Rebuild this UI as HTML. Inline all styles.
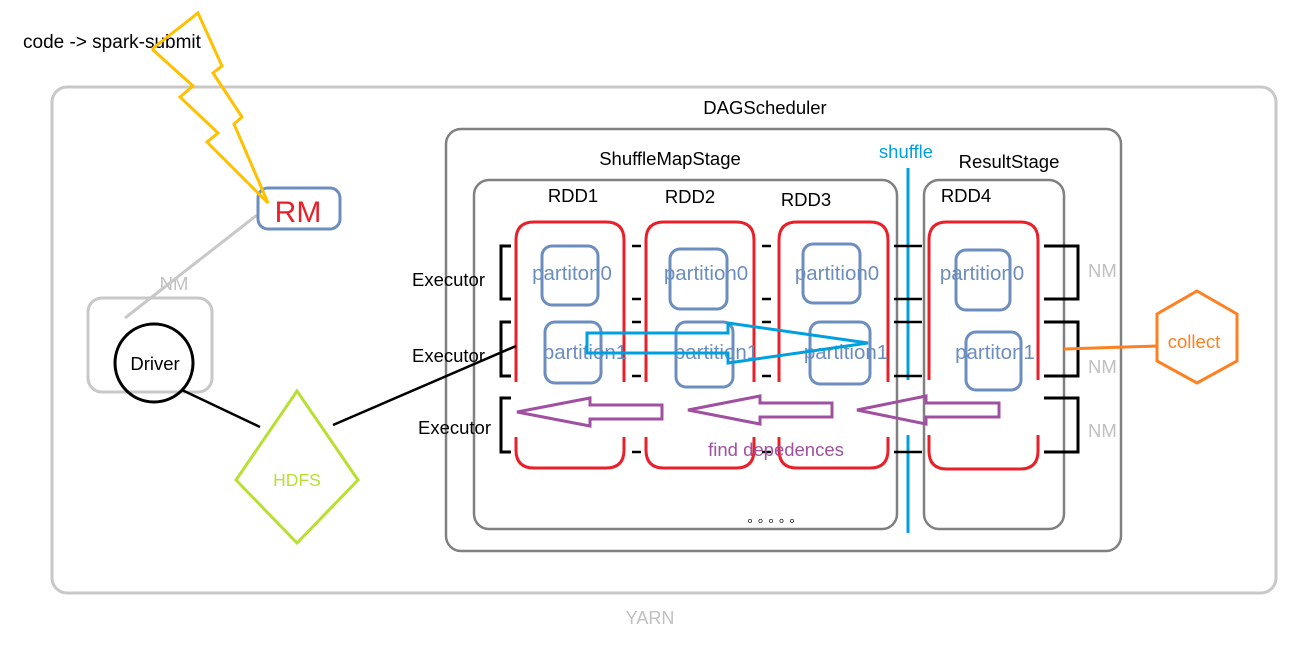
<!DOCTYPE html>
<html><head><meta charset="utf-8"><style>
html,body{margin:0;padding:0;background:#fff;}
svg{display:block;font-family:"Liberation Sans","Noto Sans CJK SC",sans-serif;}
</style></head><body>
<svg width="1316" height="651" viewBox="0 0 1316 651" xmlns="http://www.w3.org/2000/svg">
<rect x="52" y="87" width="1224" height="506" rx="15" fill="none" stroke="#c8c8c8" stroke-width="3"/>
<text x="650" y="624" font-size="18" fill="#c0c0c0" text-anchor="middle">YARN</text>
<rect x="446" y="129" width="675" height="422" rx="15" fill="none" stroke="#808080" stroke-width="2.5"/>
<text x="765" y="114" font-size="18.5" text-anchor="middle">DAGScheduler</text>
<rect x="474" y="180" width="423" height="349" rx="15" fill="none" stroke="#808080" stroke-width="2.5"/>
<text x="670" y="165" font-size="18.5" text-anchor="middle">ShuffleMapStage</text>
<rect x="924" y="180" width="140" height="349" rx="15" fill="none" stroke="#808080" stroke-width="2.5"/>
<text x="1009" y="168" font-size="18.5" text-anchor="middle">ResultStage</text>
<line x1="908" y1="168" x2="908" y2="380" stroke="#00a0e0" stroke-width="3"/>
<line x1="908" y1="435" x2="908" y2="533" stroke="#00a0e0" stroke-width="3"/>
<text x="906" y="158" font-size="18.5" fill="#00a0e0" text-anchor="middle">shuffle</text>
<g font-size="18.5" text-anchor="middle">
<text x="573" y="202">RDD1</text><text x="690" y="203">RDD2</text><text x="806" y="206">RDD3</text><text x="966" y="202">RDD4</text>
</g>
<g fill="none" stroke="#e8202a" stroke-width="3">
<path d="M516 382 V240 Q516 222 534 222 H606 Q624 222 624 240 V382 M516 437 V450 Q516 468 534 468 H606 Q624 468 624 450 V437"/>
<path d="M646 382 V240 Q646 222 664 222 H736 Q754 222 754 240 V382 M646 437 V450 Q646 468 664 468 H736 Q754 468 754 450 V437"/>
<path d="M779 382 V240 Q779 222 797 222 H870 Q888 222 888 240 V382 M779 437 V450 Q779 468 797 468 H870 Q888 468 888 450 V437"/>
<path d="M929 380 V240 Q929 222 947 222 H1020 Q1038 222 1038 240 V380 M929 435 V451 Q929 469 947 469 H1020 Q1038 469 1038 451 V435"/>
</g>
<g fill="none" stroke="#6c8ebf" stroke-width="3">
<rect x="542" y="246" width="56" height="59" rx="10"/><rect x="545" y="322" width="56" height="61" rx="10"/>
<rect x="670" y="249" width="57" height="60" rx="10"/><rect x="676" y="322" width="57" height="65" rx="10"/>
<rect x="803" y="244" width="57" height="59" rx="10"/><rect x="810" y="322" width="60" height="62" rx="10"/>
<rect x="956" y="250" width="54" height="60" rx="10"/><rect x="966" y="332" width="55" height="58" rx="10"/>
</g>
<g font-size="20.5" fill="#6c8ebf" text-anchor="middle">
<text x="572" y="280">partiton0</text><text x="706" y="280">partition0</text><text x="837" y="280">partition0</text><text x="982" y="280">partition0</text>
<text x="585" y="359">partition1</text><text x="716" y="359">partition1</text><text x="846" y="359">partition1</text><text x="995" y="359">partiton1</text>
</g>
<g stroke="#000" stroke-width="3" fill="none">
<path d="M511 246 H501 V299 H511 M511 322 H501 V376 H511 M511 398 H501 V452 H511"/>
<path d="M1044 246 H1078 V299 H1044 M1044 322 H1078 V376 H1044 M1044 398 H1078 V452 H1044"/>
</g>
<g stroke="#000" stroke-width="2.5">
<path d="M632 246h9M632 299h9M632 322h9M632 376h9M632 452h9M762 246h9M762 299h9M762 322h9M762 376h9M762 452h9M894 246h28M894 299h28M894 322h28M894 376h28M894 452h28"/>
</g>
<g font-size="18.5" fill="#000">
<text x="412" y="286">Executor</text><text x="412" y="362">Executor</text><text x="418" y="434">Executor</text>
</g>
<g font-size="18.5" fill="#c0c0c0"><text x="1088" y="277">NM</text><text x="1088" y="373">NM</text><text x="1088" y="437">NM</text></g>
<polygon points="587,333 728,333 728,323 868,343 728,363 728,353 587,353" fill="none" stroke="#00a0e0" stroke-width="3"/>
<g fill="none" stroke="#a050a0" stroke-width="3">
<polygon points="517,412 590,398 590,405 662,405 662,419 590,419 590,426"/>
<polygon points="688,410 760,396 760,403 832,403 832,417 760,417 760,424"/>
<polygon points="857,410 926,396 926,403 999,403 999,417 926,417 926,424"/>
</g>
<text x="776" y="456" font-size="18.5" fill="#a050a0" text-anchor="middle">find depedences</text>
<text x="777" y="522" font-size="13" text-anchor="middle" letter-spacing="4">。。。。。</text>
<rect x="88" y="298" width="124" height="94" rx="14" fill="none" stroke="#c8c8c8" stroke-width="3"/>
<text x="174" y="290" font-size="18.5" fill="#c0c0c0" text-anchor="middle">NM</text>
<line x1="257" y1="215" x2="125" y2="318" stroke="#c8c8c8" stroke-width="3"/>
<circle cx="154" cy="363" r="39" fill="none" stroke="#000" stroke-width="3"/>
<text x="155" y="370" font-size="18.5" text-anchor="middle">Driver</text>
<line x1="182" y1="390" x2="260" y2="427" stroke="#000" stroke-width="2.5"/>
<line x1="333" y1="425" x2="516" y2="346" stroke="#000" stroke-width="2.5"/>
<polygon points="236,480 297,391 358,480 297,543" fill="#fff" stroke="#b8e030" stroke-width="3"/>
<text x="297" y="486" font-size="17.5" fill="#b8e030" text-anchor="middle">HDFS</text>
<rect x="258" y="188" width="82" height="41" rx="10" fill="#fff" stroke="#6c8ebf" stroke-width="3"/>
<text x="298" y="222" font-size="30" fill="#e8202a" text-anchor="middle">RM</text>
<text x="23" y="48" font-size="19">code -&gt; spark-submit</text>
<polyline points="152,49 198,13 222,66 213,73 242,117 234,124 268,203 207,142 218,133 180,97 193,86 152,49" fill="none" stroke="#ffc000" stroke-width="3"/>
<line x1="1064" y1="349" x2="1157" y2="346" stroke="#ff8020" stroke-width="3"/>
<polygon points="1197,291 1237,314 1237,361 1197,383 1157,361 1157,314" fill="#fff" stroke="#ff8020" stroke-width="3"/>
<text x="1194" y="348" font-size="18.5" fill="#ff8020" text-anchor="middle">collect</text>
</svg>
</body></html>
